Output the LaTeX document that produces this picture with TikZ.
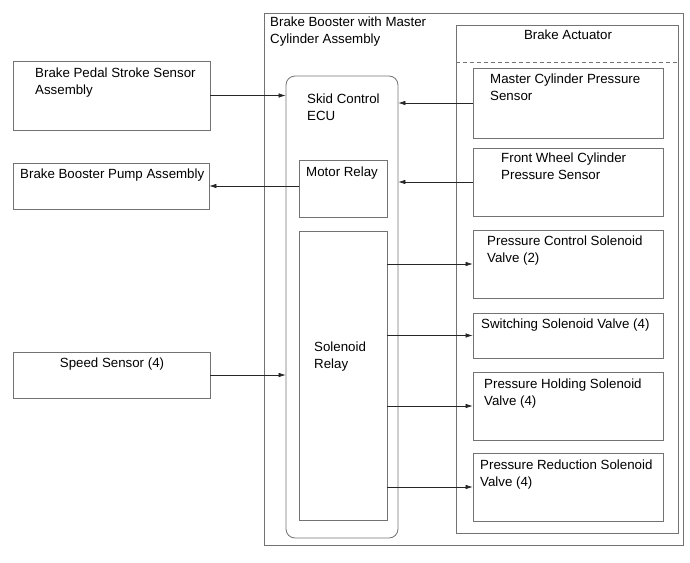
\documentclass[tikz,border=0pt]{standalone}
\usepackage{fontspec}
\setmainfont{Liberation Sans}
\usetikzlibrary{arrows.meta}
\begin{document}
\begin{tikzpicture}[x=1pt,y=-1pt,
  box/.style={draw=black!55,line width=0.8pt,inner sep=0pt,fill=none},
  txt/.style={anchor=base west,inner sep=0pt,align=left,font=\fontsize{13.3}{17}\selectfont},
  arr/.style={draw=black!85,line width=0.6pt,-{Latex[length=7pt,width=4.5pt]}}]
\useasboundingbox (0,0) rectangle (690,562);
% outer assembly
\node[box,minimum width=419pt,minimum height=532pt] (bbma) at (473.5,279) {};
\node[txt] (bbmat) at (270,43) {Brake Booster with Master\\Cylinder Assembly};
% brake actuator
\node[box,minimum width=222pt,minimum height=508pt] (act) at (567,279) {};
\node[txt,anchor=base] (actt) at (568,39) {Brake Actuator};
\draw[black!55,line width=0.8pt,dash pattern=on 4pt off 3pt] (act.west |- 0,62) coordinate (dl) -- (act.east |- 0,62) coordinate (dr);
% ECU
\node[box,rounded corners=9pt,minimum width=112pt,minimum height=462pt] (ecu) at (342,307) {};
\node[txt] (ecut) at (307,120) {Skid Control\\ECU};
\node[box,minimum width=88pt,minimum height=57pt] (motor) at (343,188.5) {};
\node[txt] (motort) at (306,176) {Motor Relay};
\node[box,minimum width=88pt,minimum height=289pt] (solrel) at (343,375.5) {};
\node[txt] (solrelt) at (314,368) {Solenoid\\Relay};
% left boxes
\node[box,minimum width=197pt,minimum height=69pt] (pedal) at (111.5,95.5) {};
\node[txt] (pedalt) at (35,94) {Brake Pedal Stroke Sensor\\Assembly};
\node[box,minimum width=196pt,minimum height=46pt] (pump) at (111,186) {};
\node[txt] (pumpt) at (20,178) {Brake Booster Pump Assembly};
\node[box,minimum width=197pt,minimum height=46pt] (speed) at (111.5,375) {};
\node[txt,anchor=base] (speedt) at (112,367) {Speed Sensor (4)};
% right boxes
\node[box,minimum width=190pt,minimum height=70pt] (mcps) at (568,103) {};
\node[txt] (mcpst) at (490,100) {Master Cylinder Pressure\\Sensor};
\node[box,minimum width=190pt,minimum height=68pt] (fwcps) at (568,182) {};
\node[txt] (fwcpst) at (501,179) {Front Wheel Cylinder\\Pressure Sensor};
\node[box,minimum width=190pt,minimum height=68pt] (pcsv) at (568,264) {};
\node[txt] (pcsvt) at (487,262) {Pressure Control Solenoid\\Valve (2)};
\node[box,minimum width=190pt,minimum height=45pt] (ssv) at (568,335.5) {};
\node[txt] (ssvt) at (481,328) {Switching Solenoid Valve (4)};
\node[box,minimum width=190pt,minimum height=68pt] (phsv) at (568,406) {};
\node[txt] (phsvt) at (484,405) {Pressure Holding Solenoid\\Valve (4)};
\node[box,minimum width=190pt,minimum height=68pt] (prsv) at (568,487) {};
\node[txt] (prsvt) at (480,486) {Pressure Reduction Solenoid\\Valve (4)};
% connectors
\draw[arr] (pedal.east) -- (pedal.east -| ecu.west);
\draw[arr] (speed.east) -- (speed.east -| ecu.west);
\draw[arr] (mcps.west) -- (mcps.west -| ecu.east);
\draw[arr] (fwcps.west) -- (fwcps.west -| ecu.east);
\draw[arr] (motor.west |- pump.east) -- (pump.east);
\draw[arr] (pcsv.west -| solrel.east) -- (pcsv.west);
\draw[arr] (ssv.west -| solrel.east) -- (ssv.west);
\draw[arr] (phsv.west -| solrel.east) -- (phsv.west);
\draw[arr] (prsv.west -| solrel.east) -- (prsv.west);
\end{tikzpicture}
\end{document}
